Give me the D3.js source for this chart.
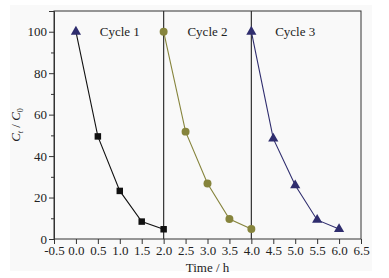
<!DOCTYPE html>
<html>
<head>
<meta charset="utf-8">
<script src="https://d3js.org/d3.v7.min.js"></script>
<style>
  body { margin: 0; background: #fff; }
  svg { display: block; }
  text { font-family: "Liberation Serif", "Times New Roman", serif; }
</style>
</head>
<body>
<svg id="chart" width="389" height="278"></svg>
<script>
// data
var cycleNames = ['Cycle 1', 'Cycle 2', 'Cycle 3'];
var cycle1Time = [0, 0.5, 1.0, 1.5, 2.0];
var cycle1Vals = [100, 49.5, 23.2, 8.4, 4.7];
var cycle2Time = [2.0, 2.5, 3.0, 3.5, 4.0];
var cycle2Vals = [100, 51.8, 26.8, 9.6, 4.8];
var cycle3Time = [4.0, 4.5, 5.0, 5.5, 6.0];
var cycle3Vals = [100, 48.4, 25.9, 9.2, 4.8];
var xTicks = [-0.5, 0.0, 0.5, 1.0, 1.5, 2.0, 2.5, 3.0, 3.5, 4.0, 4.5, 5.0, 5.5, 6.0, 6.5];
var yTicks = [0, 20, 40, 60, 80, 100];
var yMinor = [10, 30, 50, 70, 90, 110];
var dividers = [2.0, 4.0];
var labelPos = [1.0, 3.0, 5.0];

var svg = d3.select('#chart');
var margin = { top: 11, right: 28, bottom: 39, left: 54 };
var width = 389, height = 278;
var innerWidth = width - margin.left - margin.right;
var innerHeight = height - margin.top - margin.bottom;

// light grey figure panel
svg.append('rect').attr('x', 10).attr('y', 5).attr('width', 362).attr('height', 266)
   .style('fill', '#f9f9f9');

var xScale = d3.scaleLinear().domain([-0.5, 6.5]).range([0, innerWidth]);
var yScale = d3.scaleLinear().domain([0, 110]).range([innerHeight, 0]);

var g = svg.append('g').attr('transform', 'translate(' + margin.left + ',' + margin.top + ')');

// frame
g.append('rect').attr('width', innerWidth).attr('height', innerHeight)
 .style('fill', 'none').style('stroke', '#333').style('stroke-width', 1);

// divider lines
g.selectAll('.div').data(dividers).enter().append('line')
 .attr('x1', d => xScale(d)).attr('x2', d => xScale(d))
 .attr('y1', 0).attr('y2', innerHeight)
 .style('stroke', '#333').style('stroke-width', 1.2);

// axes (plain hyphen for negatives, like the original)
var fmt1 = d => d3.format('.1f')(d).replace('\u2212', '-');
var xAxis = d3.axisBottom(xScale).tickValues(xTicks).tickFormat(fmt1).tickSize(5).tickPadding(2);
var gx = g.append('g').attr('transform', 'translate(0,' + innerHeight + ')').call(xAxis);
var yAxis = d3.axisLeft(yScale).tickValues(yTicks).tickFormat(d3.format('d')).tickSize(5).tickPadding(2);
var gy = g.append('g').call(yAxis);
var yAxisMinor = d3.axisLeft(yScale).tickValues(yMinor).tickFormat('').tickSize(3);
var gym = g.append('g').call(yAxisMinor);
gym.select('.domain').remove();
[gx, gy, gym].forEach(function(a) {
  a.attr('font-family', '"Liberation Serif", serif').attr('font-size', 13);
  a.selectAll('path,line').style('stroke', '#333');
  a.selectAll('text').style('fill', '#222');
});
gx.select('.domain').remove();

// axis labels
g.append('text')
 .attr('x', innerWidth / 2).attr('y', innerHeight + 33)
 .attr('text-anchor', 'middle').style('font-size', '13px').style('fill', '#222')
 .text('Time / h');
var yl = g.append('text')
 .attr('transform', 'rotate(-90)')
 .attr('x', -innerHeight / 2).attr('y', -34)
 .attr('text-anchor', 'middle').style('font-size', '13px').style('fill', '#222');
yl.append('tspan').style('font-style', 'italic').text('C');
yl.append('tspan').style('font-style', 'italic').style('font-size', '8px').attr('dy', 3).text('t');
yl.append('tspan').attr('dy', -3).text(' / ');
yl.append('tspan').style('font-style', 'italic').text('C');
yl.append('tspan').style('font-size', '8px').attr('dy', 3).text('0');

// cycle labels
g.selectAll('.cyc').data(cycleNames).enter().append('text')
 .attr('x', (d, i) => xScale(labelPos[i])).attr('y', yScale(100) + 4)
 .attr('text-anchor', 'middle').style('font-size', '13px').style('fill', '#222')
 .text(d => d);

var series = [
  { t: cycle1Time, v: cycle1Vals, color: '#111111', shape: 'square' },
  { t: cycle2Time, v: cycle2Vals, color: '#86843c', shape: 'circle' },
  { t: cycle3Time, v: cycle3Vals, color: '#2f2d6e', shape: 'triangle' }
];

var line = d3.line().x(d => xScale(d[0])).y(d => yScale(d[1]));

series.forEach(function(s) {
  var pts = d3.zip(s.t, s.v);
  g.append('path').datum(pts).attr('d', line)
   .style('fill', 'none').style('stroke', s.color).style('stroke-width', 1.1);
});

var symbols = { square: d3.symbolSquare, circle: d3.symbolCircle, triangle: d3.symbolTriangle };
var sizes = { square: 42, circle: 50, triangle: 45 };
series.forEach(function(s, si) {
  var pts = d3.zip(s.t, s.v);
  g.selectAll('.m' + si).data(pts).enter().append('path')
   .attr('transform', d => 'translate(' + xScale(d[0]) + ',' + yScale(d[1]) + ')')
   .attr('d', function(d, i) {
     // first point of cycle 1 is drawn as a triangle in the original
     var shape = (si === 0 && i === 0) ? 'triangle' : s.shape;
     return d3.symbol().type(symbols[shape]).size(sizes[shape])();
   })
   .style('fill', (d, i) => (si === 0 && i === 0) ? series[2].color : s.color);
});
</script>
</body>
</html>
